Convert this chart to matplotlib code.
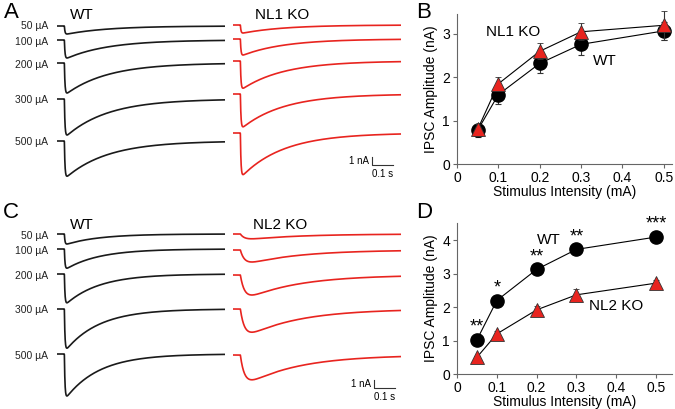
import numpy as np
import matplotlib
matplotlib.use("Agg")
import matplotlib.pyplot as plt

plt.rcParams['font.family'] = ['Liberation Sans', 'DejaVu Sans']

# ---- data ----
stim_labels = ["50 \u00b5A", "100 \u00b5A", "200 \u00b5A", "300 \u00b5A", "500 \u00b5A"]

# example trace peak amplitudes (nA) and kinetics (rise, decay in s)
amp_a_wt = [1.0, 2.25, 3.75, 4.5, 4.4]
amp_a_ko = [1.0, 2.0, 3.4, 4.1, 5.2]
amp_c_wt = [1.25, 2.4, 3.6, 4.9, 5.25]
amp_c_ko = [0.6, 1.5, 2.5, 2.9, 3.1]
kin_a_wt = (0.003, 0.20)
kin_a_ko = (0.003, 0.20)
kin_c_wt = (0.003, 0.16)
kin_c_ko = (0.020, 0.25)

intensity = [0.05, 0.1, 0.2, 0.3, 0.5]
b_wt = [0.78, 1.6, 2.32, 2.76, 3.07]
b_wt_err = [0.15, 0.22, 0.22, 0.25, 0.2]
b_ko = [0.8, 1.85, 2.6, 3.05, 3.2]
b_ko_err = [0.12, 0.15, 0.18, 0.2, 0.33]

d_wt = [1.02, 2.2, 3.13, 3.73, 4.1]
d_wt_err = [0.08, 0.1, 0.1, 0.1, 0.08]
d_ko = [0.5, 1.2, 1.92, 2.37, 2.72]
d_ko_err = [0.05, 0.1, 0.12, 0.17, 0.08]
d_stars = ["**", "*", "**", "**", "***"]

RED = "#e8241f"
W, H = 675, 409
PX_S = 210.0   # pixels per second
PX_NA = 8.0    # pixels per nA

fig = plt.figure(figsize=(W / 100, H / 100), dpi=100)
ov = fig.add_axes([0, 0, 1, 1])
ov.set_xlim(0, W)
ov.set_ylim(H, 0)
ov.axis("off")


def trace(amp, kin, x0, base, color):
    tr, td = kin
    t = np.linspace(0, 0.8, 800)
    t_on = 0.035
    s = np.clip(t - t_on, 0, None)
    f = np.exp(-s / td) - np.exp(-s / tr)
    f = f / f.max()
    i = -amp * f
    ov.plot(x0 + t * PX_S, base - i * PX_NA, color=color, lw=1.2,
            solid_capstyle="butt")


def trace_panel(amps_wt, amps_ko, kin_wt, kin_ko, bases_wt, bases_ko, lab_y):
    for k in range(5):
        trace(amps_wt[k], kin_wt, 57, bases_wt[k], "#1a1a1a")
        trace(amps_ko[k], kin_ko, 233, bases_ko[k], RED)
        ov.text(48, lab_y[k], stim_labels[k], ha="right", va="center",
                fontsize=7.5, color="#222222")


trace_panel(amp_a_wt, amp_a_ko, kin_a_wt, kin_a_ko,
            [26, 40, 63, 99, 141], [25, 39, 61, 94, 133],
            [26, 42, 65, 100, 142])
trace_panel(amp_c_wt, amp_c_ko, kin_c_wt, kin_c_ko,
            [234, 249, 274, 309, 354], [234, 250, 275, 309, 355],
            [236, 251, 276, 310, 356])

# group titles
for y in (15, 225):
    ov.text(82, y, "WT", ha="center", va="center", fontsize=11)
ov.text(282, 15, "NL1 KO", ha="center", va="center", fontsize=11)
ov.text(280, 225, "NL2 KO", ha="center", va="center", fontsize=11)


def scale_bar(x, y):
    ov.plot([x, x, x + 0.1 * PX_S], [y - 1 * PX_NA, y, y], color="#333333", lw=0.8)
    ov.text(x - 3, y - 4, "1 nA", ha="right", va="center", fontsize=7)
    ov.text(x + 0.05 * PX_S, y + 4, "0.1 s", ha="center", va="top", fontsize=7)


scale_bar(372, 165)
scale_bar(374, 388)

# panel letters
for lab, x, y in [("A", 4, 12), ("B", 416, 12), ("C", 3, 212), ("D", 416, 212)]:
    ov.text(x, y, lab, ha="left", va="center", fontsize=16)


def amp_axes(rect, xmax, ymax, yticks, wt, wt_err, ko, ko_err, ko_on_top):
    ax = fig.add_axes(rect)
    zw, zk = (2, 3) if ko_on_top else (3, 2)
    ax.errorbar(intensity, wt, yerr=wt_err, color="black", lw=0.8, marker="o",
                ms=9.5, mfc="black", mec="black", ecolor="#333333", elinewidth=0.8,
                capsize=2.5, capthick=0.8, zorder=zw)
    ax.errorbar(intensity, ko, yerr=ko_err, color="black", lw=0.8, marker="^",
                ms=9.5, mfc=RED, mec="#333333", mew=0.6, ecolor="#333333",
                elinewidth=0.8, capsize=2.5, capthick=0.8, zorder=zk)
    ax.set_xlim(0, xmax)
    ax.set_ylim(0, ymax)
    ax.set_xticks([0, 0.1, 0.2, 0.3, 0.4, 0.5])
    ax.set_xticklabels(["0", "0.1", "0.2", "0.3", "0.4", "0.5"])
    ax.set_yticks(yticks)
    for s in ("top", "right"):
        ax.spines[s].set_visible(False)
    for s in ("left", "bottom"):
        ax.spines[s].set_color("#666666")
        ax.spines[s].set_linewidth(0.8)
    ax.tick_params(length=3, width=0.8, color="#666666", labelsize=10, pad=2)
    ax.set_xlabel("Stimulus Intensity (mA)", fontsize=10, labelpad=0)
    ax.set_ylabel("IPSC Amplitude (nA)", fontsize=10, labelpad=3)
    ax.patch.set_alpha(0)
    for c in ax.get_children():
        if hasattr(c, "set_clip_on"):
            c.set_clip_on(False)
    return ax


axb = amp_axes([457 / W, 1 - 164 / H, 215 / W, 150 / H], 0.52, 3.46, [0, 1, 2, 3],
               b_wt, b_wt_err, b_ko, b_ko_err, True)
axb.text(0.135, 3.05, "NL1 KO", ha="center", va="center", fontsize=11)
axb.text(0.357, 2.38, "WT", ha="center", va="center", fontsize=11)

axd = amp_axes([457 / W, 1 - 374 / H, 215 / W, 151 / H], 0.54, 4.52, [0, 1, 2, 3, 4],
               d_wt, d_wt_err, d_ko, d_ko_err, False)
axd.text(0.23, 4.02, "WT", ha="center", va="center", fontsize=11)
axd.text(0.40, 2.03, "NL2 KO", ha="center", va="center", fontsize=11)
for xv, yv, st in zip(intensity, d_wt, d_stars):
    axd.annotate(st, (xv, yv), xytext=(0, 3), textcoords="offset points",
                 ha="center", va="bottom", fontsize=13)

fig.savefig("out.png", dpi=100)
